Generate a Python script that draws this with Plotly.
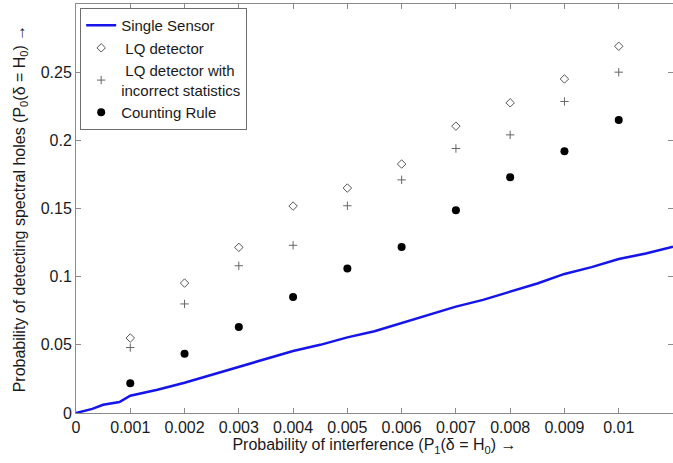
import plotly.graph_objects as go

# ---- data ----
x_pts = [0.001, 0.002, 0.003, 0.004, 0.005, 0.006, 0.007, 0.008, 0.009, 0.010]
lq_detector = [0.055, 0.0953, 0.1215, 0.1518, 0.165, 0.1826, 0.2104, 0.2275, 0.245, 0.269]
lq_incorrect = [0.048, 0.080, 0.108, 0.123, 0.152, 0.171, 0.194, 0.204, 0.2285, 0.250]
counting_rule = [0.0218, 0.0435, 0.063, 0.085, 0.106, 0.1217, 0.1487, 0.173, 0.192, 0.215]

single_x = [0.0, 0.0003, 0.0005, 0.0008, 0.001, 0.0015, 0.002, 0.0025, 0.003, 0.0035,
            0.004, 0.0045, 0.005, 0.0055, 0.006, 0.0065, 0.007, 0.0075, 0.008, 0.0085,
            0.009, 0.0095, 0.010, 0.0105, 0.011]
single_y = [0.0, 0.003, 0.006, 0.008, 0.0127, 0.017, 0.0222, 0.028, 0.034, 0.040,
            0.0455, 0.050, 0.0555, 0.060, 0.066, 0.072, 0.078, 0.083, 0.089, 0.095,
            0.102, 0.107, 0.113, 0.117, 0.122]

x_ticks = [0, 0.001, 0.002, 0.003, 0.004, 0.005, 0.006, 0.007, 0.008, 0.009, 0.01]
x_tick_text = ["0", "0.001", "0.002", "0.003", "0.004", "0.005", "0.006", "0.007", "0.008", "0.009", "0.01"]
y_ticks = [0, 0.05, 0.1, 0.15, 0.2, 0.25]
y_tick_text = ["0", "0.05", "0.1", "0.15", "0.2", "0.25"]

FONT = "Liberation Sans, Arial, sans-serif"
AX = "#8a8a8a"
TXT = "#1a1a1a"
NB = "\u00a0"

fig = go.Figure()
fig.add_trace(go.Scatter(x=single_x, y=single_y, mode="lines", name="Single Sensor",
                         line=dict(color="rgb(20,20,235)", width=2.5)))
fig.add_trace(go.Scatter(x=x_pts, y=lq_detector, mode="markers", name=NB + "LQ detector",
                         marker=dict(symbol="diamond-open", size=6.5,
                                     color="#555555", line=dict(width=1, color="#555555"))))
fig.add_trace(go.Scatter(x=x_pts, y=lq_incorrect, mode="markers",
                         name=NB + "LQ detector with<br>incorrect statistics",
                         marker=dict(symbol="cross-thin-open", size=6,
                                     color="#666666", line=dict(width=1, color="#666666"))))
fig.add_trace(go.Scatter(x=x_pts, y=counting_rule, mode="markers", name="Counting Rule",
                         marker=dict(symbol="circle", size=8, color="black")))
# invisible trace on right axis for inward ticks on the right side
fig.add_trace(go.Scatter(x=[0], y=[0], yaxis="y2", mode="markers", showlegend=False,
                         marker=dict(opacity=0), hoverinfo="skip"))

fig.update_layout(
    width=673, height=463,
    margin=dict(l=76, r=0, t=4, b=50),
    paper_bgcolor="white", plot_bgcolor="white",
    font=dict(family=FONT, size=16, color=TXT),
    xaxis=dict(range=[0, 0.011], tickvals=x_ticks, ticktext=x_tick_text,
               ticks="inside", ticklen=5, tickcolor=AX, showline=True, linecolor=AX,
               linewidth=1, mirror="ticks", showgrid=False, zeroline=False,
               automargin=False,
               tickfont=dict(size=16, color=TXT),
               title=dict(text="Probability of interference (P<sub>1</sub>(δ = H<sub>0</sub>) →",
                          font=dict(size=16, color=TXT), standoff=3)),
    yaxis=dict(range=[0, 0.3], tickvals=y_ticks, ticktext=y_tick_text,
               ticks="inside", ticklen=5, tickcolor=AX, showline=True, linecolor=AX,
               linewidth=1, showgrid=False, zeroline=False, automargin=False,
               tickfont=dict(size=16, color=TXT),
               title=dict(text="Probability of detecting spectral holes (P<sub>0</sub>(δ = H<sub>0</sub>) →",
                          font=dict(size=16, color=TXT), standoff=11)),
    yaxis2=dict(range=[0, 0.3], overlaying="y", side="right", tickvals=y_ticks,
                ticks="inside", ticklen=5, tickcolor=AX, showticklabels=False,
                showline=False, showgrid=False, zeroline=False, automargin=False),
    legend=dict(x=0.007, y=0.99, xanchor="left", yanchor="top",
                bgcolor="white", bordercolor="#6e6e6e", borderwidth=1,
                font=dict(family=FONT, size=15, color=TXT),
                tracegroupgap=0, itemwidth=30),
    showlegend=True,
)

fig.write_html("out.html", config={"displayModeBar": False})

# remove the default page margin so the figure sits at the window's top-left corner
with open("out.html", "r", encoding="utf-8") as f:
    html = f.read()
html = html.replace("<body>", '<body style="margin:0;padding:0;overflow:hidden">', 1)
with open("out.html", "w", encoding="utf-8") as f:
    f.write(html)
